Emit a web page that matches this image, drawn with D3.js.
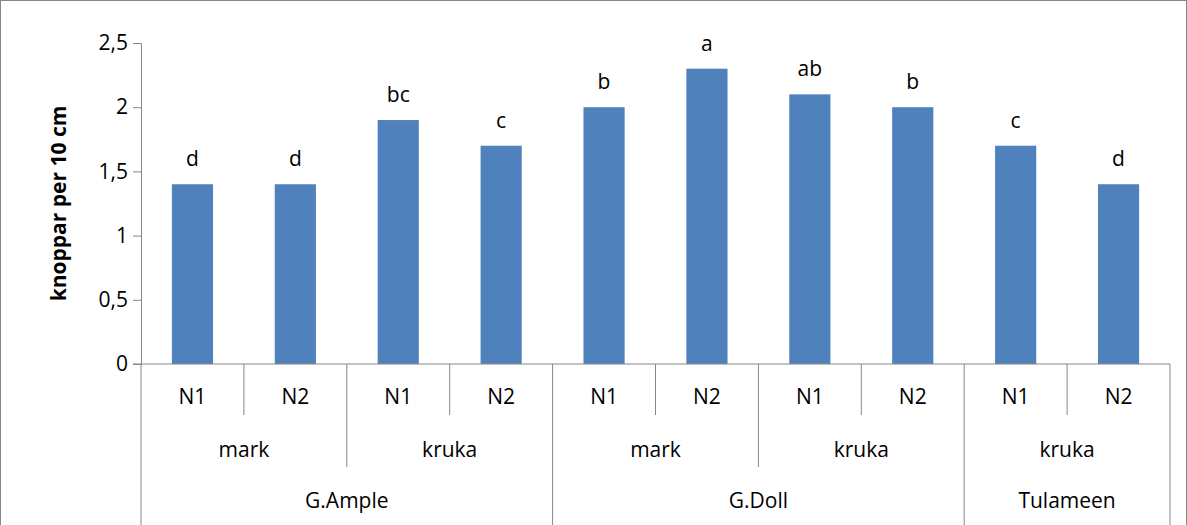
<!DOCTYPE html>
<html><head><meta charset="utf-8">
<script src="https://d3js.org/d3.v7.min.js"></script>
<style>body{margin:0;background:#fff}svg{font-family:"Open Sans",sans-serif}</style>
</head><body><svg id="c" width="1187" height="525"></svg>
<script>
const nLabels = ["N1","N2","N1","N2","N1","N2","N1","N2","N1","N2"];
const values = [1.4,1.4,1.9,1.7,2.0,2.3,2.1,2.0,1.7,1.4];
const letters = ["d","d","bc","c","b","a","ab","b","c","d"];
const midGroups = [["mark",2],["kruka",2],["mark",2],["kruka",2],["kruka",2]];
const topGroups = [["G.Ample",4],["G.Doll",4],["Tulameen",2]];
const yTicks = [0,0.5,1,1.5,2,2.5];

const svg = d3.select("#c");
const L = 141, R = 1170, T = 43, B = 364;
const grey = "#868686";
svg.append("rect").attr("x",0.5).attr("y",0.5).attr("width",1186).attr("height",530)
  .attr("fill","none").attr("stroke",grey);

const x = d3.scaleBand().domain(d3.range(values.length)).range([L,R]).paddingInner(0.6).paddingOuter(0.3);
const step = (R-L)/values.length;
const y = d3.scaleLinear().domain([0,2.5]).range([B,T]);

svg.selectAll(".bar").data(values).join("rect")
  .attr("x",(d,i)=>x(i)).attr("width",x.bandwidth())
  .attr("y",d=>y(d)).attr("height",d=>B-y(d)).attr("fill","#4f81bd");

svg.selectAll(".lab").data(letters).join("text")
  .attr("x",(d,i)=>x(i)+x.bandwidth()/2).attr("y",(d,i)=>y(values[i])-18)
  .attr("text-anchor","middle").attr("font-size",21).text(d=>d);

const ya = svg.append("g").attr("transform",`translate(${L},0)`)
  .call(d3.axisLeft(y).tickValues(yTicks).tickSize(8).tickFormat(d=>String(d).replace(".",",")));
ya.select(".domain").attr("stroke",grey);
ya.selectAll("line").attr("stroke",grey);
ya.selectAll("text").attr("font-size",21).attr("fill","#000").attr("font-family","Open Sans").attr("dx",-2);

svg.append("line").attr("x1",L-8).attr("x2",R).attr("y1",B).attr("y2",B).attr("stroke",grey);

svg.append("text").attr("transform",`translate(66,${(T+B)/2}) rotate(-90)`)
  .attr("text-anchor","middle").attr("font-size",21).attr("font-weight","bold").text("knoppar per 10 cm");

// category rows
const rows = [
  {groups: nLabels.map(n=>[n,1]), bottom:415, ty:404},
  {groups: midGroups, bottom:467, ty:457},
  {groups: topGroups, bottom:525, ty:508}
];
// vertical separators: a boundary extends to the deepest row where it is a boundary
const depth = new Array(values.length+1).fill(0);
rows.forEach((r,ri)=>{
  let c=0; depth[0]=ri;
  r.groups.forEach(g=>{ c+=g[1]; depth[c]=ri; });
});
depth.forEach((d,i)=>{
  svg.append("line").attr("x1",L+i*step).attr("x2",L+i*step).attr("y1",B).attr("y2",rows[d].bottom).attr("stroke",grey);
});
rows.forEach(r=>{
  let c=0;
  r.groups.forEach(g=>{
    svg.append("text").attr("x",L+(c+g[1]/2)*step).attr("y",r.ty).attr("text-anchor","middle")
      .attr("font-size",21).text(g[0]);
    c+=g[1];
  });
});
</script></body></html>
